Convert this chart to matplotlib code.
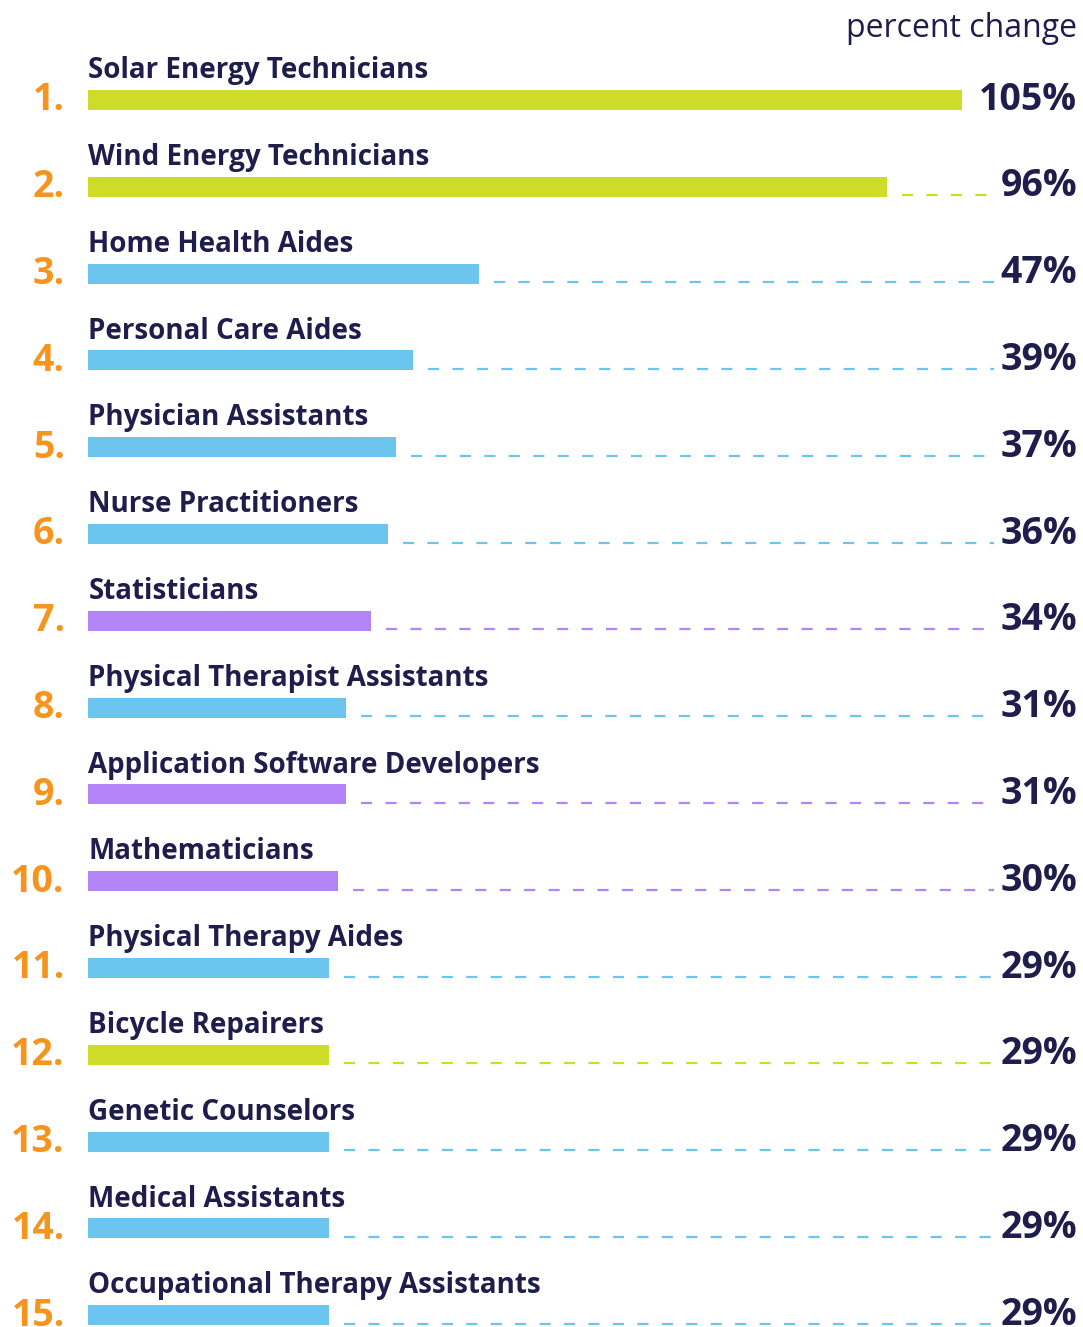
import matplotlib.pyplot as plt

# === Data ===
jobs = [
    "Solar Energy Technicians", "Wind Energy Technicians", "Home Health Aides",
    "Personal Care Aides", "Physician Assistants", "Nurse Practitioners",
    "Statisticians", "Physical Therapist Assistants", "Application Software Developers",
    "Mathematicians", "Physical Therapy Aides", "Bicycle Repairers",
    "Genetic Counselors", "Medical Assistants", "Occupational Therapy Assistants",
]
change = [105, 96, 47, 39, 37, 36, 34, 31, 31, 30, 29, 29, 29, 29, 29]
group = ["green", "green", "blue", "blue", "blue", "blue", "purple", "blue",
         "purple", "purple", "blue", "green", "blue", "blue", "blue"]

colors = {"green": "#cddc29", "blue": "#6cc5ee", "purple": "#b284f7"}
navy = "#1e1d4c"
orange = "#f7941d"

plt.rcParams['font.family'] = ['Open Sans', 'DejaVu Sans']

fig = plt.figure(figsize=(10.83, 13.27), dpi=100)
ax = fig.add_axes([0, 0, 1, 1])

# pixel layout: 0% at x=88px, 105% at x=962px; row pitch 86.8px, first row at y=100px
px_per = (962 - 88) / 105
ax.set_xlim(-88 / px_per, (1083 - 88) / px_per)
pitch = 86.8
ax.set_ylim(1 + (1327 - 100) / pitch, 1 - 100 / pitch)
ax.axis('off')

bar_h = 20 / pitch
line_end = (994 - 88) / px_per
right = (1077 - 88) / px_per

for i, (name, val, g) in enumerate(zip(jobs, change, group)):
    rank = i + 1
    c = colors[g]
    ax.barh(rank, val, height=bar_h, left=0, color=c, edgecolor='none')
    if val < 100:
        yb = rank + 0.1
        ax.plot([val + 15 / px_per, line_end], [yb, yb], color=c, lw=1.6,
                linestyle=(0, (5, 6)), solid_capstyle='butt')
    ax.text(0.05, rank - 0.25, name, ha='left', va='baseline',
            fontsize=20, fontweight='bold', color=navy)
    ax.text(-2.8, rank + 0.12, f"{rank}.", ha='right', va='baseline',
            fontsize=27, fontweight='bold', color=orange)
    ax.text(right, rank + 0.11, f"{val}%", ha='right', va='baseline',
            fontsize=27, fontweight='bold', color=navy)

ax.text(right, 1 - 63 / pitch, "percent change", ha='right',
        va='baseline', fontsize=23, color=navy)

fig.savefig("out.png", dpi=100)
